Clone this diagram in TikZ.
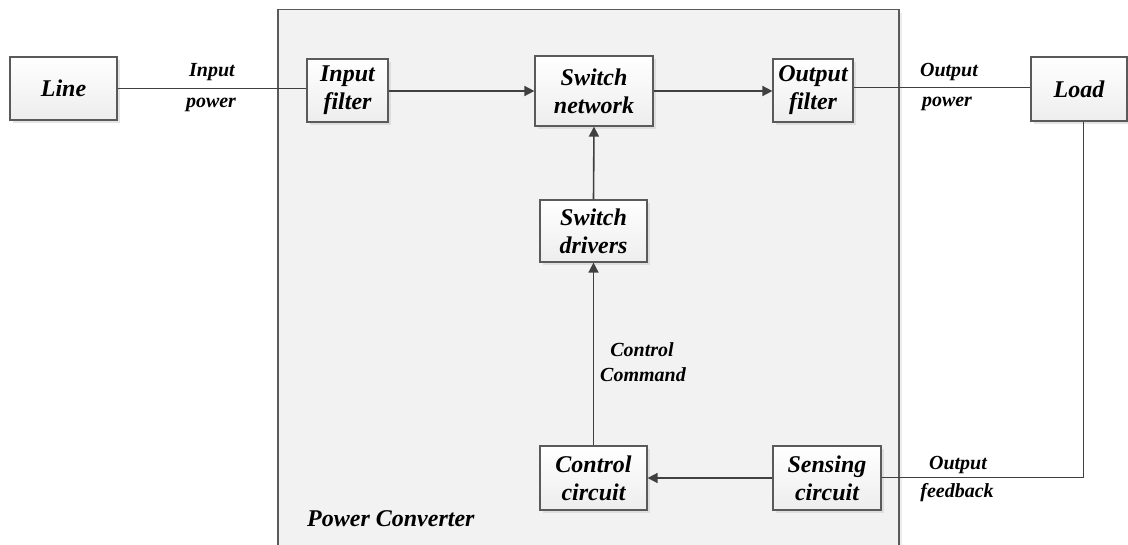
\documentclass[tikz,border=0pt]{standalone}
\usepackage{fontspec}
\setmainfont{Liberation Serif}
\newfontfamily\tbi{Liberation Serif Bold Italic}
\usetikzlibrary{arrows.meta,shadows}
\definecolor{panelfill}{HTML}{F2F2F2}
\definecolor{edge}{HTML}{404040}
\definecolor{boxline}{HTML}{5A5A5A}
\tikzset{
  blk/.style={draw=boxline, line width=1.2pt, top color=white, bottom color=gray!14,
    drop shadow={shadow xshift=2.5pt, shadow yshift=-2.5pt, fill=gray!35, opacity=0.6},
    align=center, inner sep=0pt, font=\tbi\fontsize{24}{28}\selectfont},
  lbl/.style={font=\tbi\fontsize{20}{25}\selectfont, inner sep=0pt, anchor=base},
  conn/.style={draw=edge, line width=1.6pt},
  arr/.style={conn, -{Triangle[length=10pt,width=10pt]}},
}
\begin{document}
\begin{tikzpicture}[x=1pt,y=-1pt]
\useasboundingbox (0,0) rectangle (1128,544);
% panel
\draw[draw=boxline, line width=1.5pt, fill=panelfill,
  drop shadow={shadow xshift=3pt, shadow yshift=-3pt, fill=gray!30, opacity=0.5}]
  (278,9.5) rectangle (899,548);
\node[blk, minimum width=107pt, minimum height=63pt] (line) at (63.5,88.5) {Line};
\node[blk, minimum width=81pt, minimum height=63pt] (infilt) at (347.5,90.5) {Input\\filter};
\node[blk, minimum width=118pt, minimum height=70pt] (swnet) at (594,91) {Switch\\network};
\node[blk, minimum width=80pt, minimum height=63pt] (outfilt) at (813,90.5) {Output\\filter};
\node[blk, minimum width=96pt, minimum height=64pt] (load) at (1079,89) {Load};
\node[blk, minimum width=107pt, minimum height=62pt] (swdrv) at (593.5,231) {Switch\\drivers};
\node[blk, minimum width=107pt, minimum height=64pt] (ctrl) at (593.5,478) {Control\\circuit};
\node[blk, minimum width=108pt, minimum height=64pt] (sense) at (827,478) {Sensing\\circuit};
\coordinate (fb) at (1083,477);
% connectors
\draw[conn, line width=1pt] (line.east) -- (line.east -| infilt.west);
\draw[arr] (infilt.east |- swnet.west) -- (swnet.west);
\draw[arr] (swnet.east) -- (swnet.east -| outfilt.west);
\draw[conn, line width=1pt] (outfilt.east |- 0,87) -- (load.west |- 0,87);
\draw[arr] (swdrv.north) -- (swnet.south);
\draw[arr] (ctrl.north) -- (swdrv.south);
\draw[arr] (sense.west) -- (ctrl.east);
\draw[conn, line width=1pt] (sense.east |- fb) -- (fb) -- (fb |- load.south);
% labels
\node[lbl] (inp1) at (212,76) {Input};
\node[lbl] (inp2) at (211,107) {power};
\node[lbl] (outp1) at (949,76) {Output};
\node[lbl] (outp2) at (947,106) {power};
\node[lbl] (cc1) at (642,356) {Control};
\node[lbl] (cc2) at (643,381) {Command};
\node[lbl] (of1) at (958,469) {Output};
\node[lbl] (of2) at (957,497) {feedback};
\node[lbl, anchor=base west, font=\tbi\fontsize{24}{28}\selectfont] (pc) at (307,526) {Power Converter};
\end{tikzpicture}
\end{document}
